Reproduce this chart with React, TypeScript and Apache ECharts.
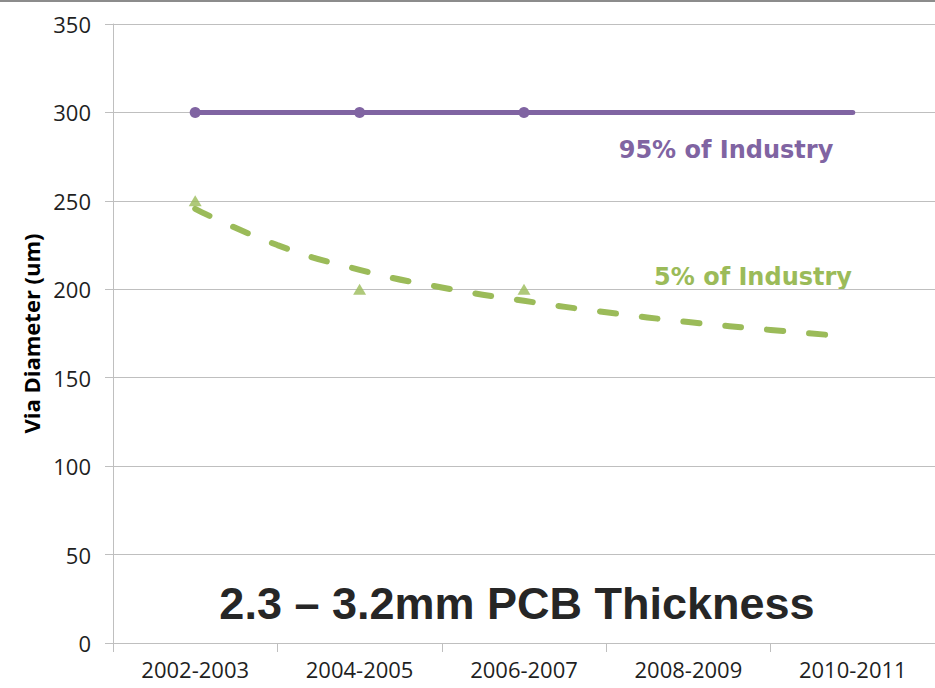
import React, { useEffect, useRef } from "react";
import * as echarts from "echarts";

const periods = ["2002-2003", "2004-2005", "2006-2007", "2008-2009", "2010-2011"];
const industry95 = [300, 300, 300, 300, 300];
const industry95Markers = [true, true, true, false, false];
const industry5 = [250, 200, 200];
// trend line of the 5% series: [period position (1 = first period), value]
const trend5: [number, number][] = [
  [1, 245.5],
  [1.5, 225],
  [2, 211],
  [2.5, 201],
  [3, 193.5],
  [3.5, 187],
  [4, 181.5],
  [4.5, 177],
  [4.88, 174],
];
const yTicks = { min: 0, max: 350, interval: 50 };

const PURPLE = "#8064A2";
const GREEN = "#9BBB59";
const AXIS_GRAY = "#BFBFBF";
const TEXT = "#1F1F1F";
const TICK_FONT = "Open Sans";

export default function App() {
  const ref = useRef<HTMLDivElement>(null);

  useEffect(() => {
    if (!ref.current) return;
    const chart = echarts.init(ref.current, null, { renderer: "svg" });

    chart.setOption({
      animation: false,
      backgroundColor: "#ffffff",
      grid: { left: 113, top: 24, width: 825, height: 619, containLabel: false },
      xAxis: [
        {
          type: "category",
          data: periods,
          boundaryGap: true,
          axisLine: { lineStyle: { color: AXIS_GRAY, width: 1 } },
          axisTick: { show: true, length: 9, lineStyle: { color: AXIS_GRAY } },
          axisLabel: { color: TEXT, fontFamily: TICK_FONT, fontSize: 22, margin: 15 },
          splitLine: { show: false },
        },
        {
          type: "value",
          min: 0.5,
          max: 5.5,
          show: false,
        },
      ],
      yAxis: {
        type: "value",
        ...yTicks,
        name: "Via Diameter (um)",
        nameLocation: "middle",
        nameGap: 70,
        nameRotate: 90,
        nameTextStyle: { color: "#000", fontFamily: TICK_FONT, fontWeight: "bold", fontSize: 22 },
        axisLine: { show: true, lineStyle: { color: AXIS_GRAY, width: 1 } },
        axisTick: { show: true, inside: false, length: 8, lineStyle: { color: AXIS_GRAY } },
        axisLabel: { color: TEXT, fontFamily: TICK_FONT, fontSize: 22, margin: 22 },
        splitLine: { show: true, lineStyle: { color: AXIS_GRAY, width: 1 } },
      },
      series: [
        {
          name: "95% of Industry",
          type: "line",
          xAxisIndex: 0,
          data: industry95.map((v, i) => ({
            value: v,
            symbol: industry95Markers[i] ? "circle" : "none",
          })),
          symbolSize: 11,
          itemStyle: { color: PURPLE },
          lineStyle: { color: PURPLE, width: 5, cap: "round" },
          z: 3,
        },
        {
          name: "5% of Industry",
          type: "scatter",
          xAxisIndex: 0,
          data: industry5,
          symbol: "triangle",
          symbolSize: [13, 11],
          itemStyle: { color: GREEN },
          z: 3,
        },
        {
          name: "5% trend",
          type: "line",
          xAxisIndex: 1,
          data: trend5,
          smooth: true,
          symbol: "none",
          lineStyle: { color: GREEN, width: 6, type: [16, 26], cap: "round" },
          z: 2,
        },
      ],
      graphic: [
        {
          type: "line",
          shape: { x1: 0, y1: 1, x2: 935, y2: 1 },
          style: { stroke: "#8C8C8C", lineWidth: 2 },
        },
        {
          type: "text",
          x: 726,
          y: 150,
          style: {
            text: "95% of Industry",
            fill: PURPLE,
            font: "bold 24px 'DejaVu Sans'",
            align: "center",
            verticalAlign: "middle",
          },
        },
        {
          type: "text",
          x: 753,
          y: 277,
          style: {
            text: "5% of Industry",
            fill: GREEN,
            font: "bold 24px 'DejaVu Sans'",
            align: "center",
            verticalAlign: "middle",
          },
        },
        {
          type: "text",
          x: 517,
          y: 603,
          style: {
            text: "2.3 – 3.2mm PCB Thickness",
            fill: "#262626",
            font: "bold 45px 'Liberation Sans'",
            align: "center",
            verticalAlign: "middle",
          },
        },
      ],
    });

    return () => chart.dispose();
  }, []);

  return (
    <div
      ref={ref}
      style={{ position: "fixed", left: 0, top: 0, width: 935, height: 688, background: "#fff" }}
    />
  );
}
